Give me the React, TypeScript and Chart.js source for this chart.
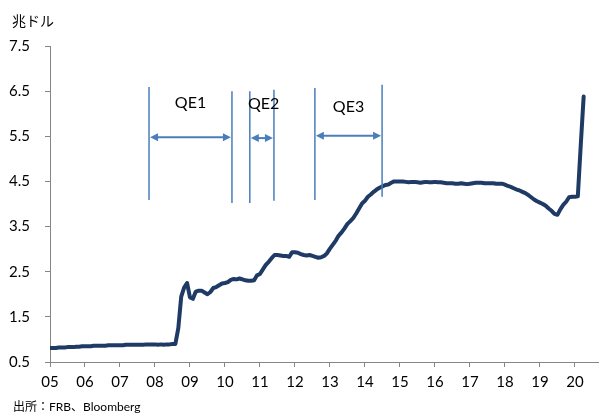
import { useEffect, useRef } from 'react';
import { Chart, registerables } from 'chart.js';

Chart.register(...registerables);

// ---- data ----
const startYear = 2005;
const tickYears = [2005, 2006, 2007, 2008, 2009, 2010, 2011, 2012, 2013, 2014, 2015, 2016, 2017, 2018, 2019, 2020];
const tickLabels = ['05', '06', '07', '08', '09', '10', '11', '12', '13', '14', '15', '16', '17', '18', '19', '20'];
const yTicks = [0.5, 1.5, 2.5, 3.5, 4.5, 5.5, 6.5, 7.5];

// Fed balance sheet, trillion USD, monthly from Jan 2005
const v2005 = [0.81, 0.81, 0.81, 0.82, 0.82, 0.82, 0.83, 0.83, 0.83, 0.84, 0.84, 0.85];
const v2006 = [0.85, 0.85, 0.85, 0.86, 0.86, 0.86, 0.86, 0.86, 0.87, 0.87, 0.87, 0.87];
const v2007 = [0.87, 0.87, 0.88, 0.88, 0.88, 0.88, 0.88, 0.88, 0.88, 0.89, 0.89, 0.89];
const v2008 = [0.89, 0.88, 0.89, 0.88, 0.89, 0.89, 0.90, 0.90, 1.25, 1.95, 2.15, 2.25];
const v2009 = [1.93, 1.90, 2.06, 2.08, 2.08, 2.04, 2.00, 2.05, 2.14, 2.16, 2.20, 2.24];
const v2010 = [2.25, 2.27, 2.32, 2.34, 2.33, 2.35, 2.33, 2.31, 2.30, 2.30, 2.31, 2.42];
const v2011 = [2.45, 2.55, 2.65, 2.72, 2.80, 2.87, 2.87, 2.86, 2.85, 2.85, 2.83, 2.93];
const v2012 = [2.93, 2.92, 2.89, 2.87, 2.86, 2.87, 2.85, 2.83, 2.81, 2.82, 2.85, 2.91];
const v2013 = [3.01, 3.10, 3.19, 3.30, 3.37, 3.46, 3.56, 3.62, 3.69, 3.79, 3.90, 4.01];
const v2014 = [4.07, 4.16, 4.21, 4.27, 4.32, 4.36, 4.39, 4.42, 4.43, 4.47, 4.50, 4.50];
const v2015 = [4.50, 4.50, 4.49, 4.48, 4.49, 4.49, 4.48, 4.47, 4.48, 4.49, 4.48, 4.48];
const v2016 = [4.49, 4.48, 4.48, 4.47, 4.46, 4.46, 4.46, 4.45, 4.45, 4.46, 4.45, 4.44];
const v2017 = [4.45, 4.46, 4.47, 4.47, 4.47, 4.46, 4.46, 4.46, 4.46, 4.45, 4.45, 4.45];
const v2018 = [4.43, 4.40, 4.38, 4.35, 4.32, 4.30, 4.27, 4.24, 4.20, 4.15, 4.10, 4.06];
const v2019 = [4.03, 4.00, 3.96, 3.90, 3.85, 3.78, 3.76, 3.88, 3.98, 4.05, 4.15, 4.16];
const v2020 = [4.16, 4.17, 5.30, 6.38];

const balance = [
  ...v2005, ...v2006, ...v2007, ...v2008, ...v2009, ...v2010, ...v2011, ...v2012,
  ...v2013, ...v2014, ...v2015, ...v2016, ...v2017, ...v2018, ...v2019, ...v2020,
];

// QE periods (as annotated, in fractional years)
const qeLabels = ['QE1', 'QE2', 'QE3'];
const qeStart = [2007.83, 2010.71, 2012.57];
const qeEnd = [2010.2, 2011.4, 2014.49];

const unitLabel = '兆ドル';
const sourceLabel = '出所：FRB、Bloomberg';

const FONT = 'Lato, "Noto Sans CJK JP", sans-serif';

function drawArrowHead(ctx: CanvasRenderingContext2D, x: number, y: number, dir: number) {
  const len = 8;
  const half = 4;
  ctx.beginPath();
  ctx.moveTo(x, y);
  ctx.lineTo(x - dir * len, y - half);
  ctx.lineTo(x - dir * len, y + half);
  ctx.closePath();
  ctx.fill();
}

const annotationPlugin = {
  id: 'qeAnnotations',
  afterDraw(chart: any) {
    const ctx: CanvasRenderingContext2D = chart.ctx;
    const xs = chart.scales.x;
    const ys = chart.scales.y;
    ctx.save();
    const blue = '#4a7ebb';
    const lineTops = [[6.59, 6.50], [6.50, 6.53], [6.57, 6.64]];
    const lineBots = [[4.09, 4.02], [4.02, 4.07], [4.09, 4.16]];
    const arrowY = [5.48, 5.46, 5.51];
    const labelY = [6.24, 6.22, 6.15];
    const labelXOff = [0, 0.05, 0.0];
    qeLabels.forEach((name, i) => {
      const x1 = xs.getPixelForValue(qeStart[i]);
      const x2 = xs.getPixelForValue(qeEnd[i]);
      ctx.strokeStyle = blue;
      ctx.fillStyle = blue;
      ctx.lineWidth = 1.5;
      ctx.beginPath();
      ctx.moveTo(x1, ys.getPixelForValue(lineTops[i][0]));
      ctx.lineTo(x1, ys.getPixelForValue(lineBots[i][0]));
      ctx.moveTo(x2, ys.getPixelForValue(lineTops[i][1]));
      ctx.lineTo(x2, ys.getPixelForValue(lineBots[i][1]));
      ctx.stroke();
      const ay = ys.getPixelForValue(arrowY[i]);
      ctx.lineWidth = 2;
      ctx.beginPath();
      ctx.moveTo(x1 + 5, ay);
      ctx.lineTo(x2 - 5, ay);
      ctx.stroke();
      drawArrowHead(ctx, x1 + 1, ay, -1);
      drawArrowHead(ctx, x2 - 1, ay, 1);
      ctx.fillStyle = '#000';
      ctx.font = `16px ${FONT}`;
      ctx.textAlign = 'center';
      ctx.textBaseline = 'middle';
      const cx = xs.getPixelForValue((qeStart[i] + qeEnd[i]) / 2 + labelXOff[i]);
      ctx.fillText(name, cx, ys.getPixelForValue(labelY[i]));
    });
    ctx.fillStyle = '#000';
    ctx.textAlign = 'left';
    ctx.textBaseline = 'middle';
    ctx.font = `14px ${FONT}`;
    ctx.fillText(unitLabel, 12, 21);
    ctx.font = `12px ${FONT}`;
    ctx.fillText(sourceLabel, 13, 407);
    ctx.restore();
  },
};

export default function App() {
  const ref = useRef<HTMLCanvasElement>(null);
  useEffect(() => {
    if (!ref.current) return;
    const points = balance.map((v, i) => ({ x: startYear + i / 12, y: v }));
    const chart = new Chart(ref.current, {
      type: 'line',
      data: {
        datasets: [
          {
            data: points,
            borderColor: '#1f3a64',
            borderWidth: 4,
            pointRadius: 0,
            tension: 0,
            fill: false,
            borderJoinStyle: 'round',
            borderCapStyle: 'round',
          },
        ],
      },
      options: {
        animation: false,
        responsive: false,
        maintainAspectRatio: false,
        layout: { padding: { top: 46, right: 2, left: 0, bottom: 0 } },
        plugins: { legend: { display: false }, tooltip: { enabled: false }, title: { display: false } },
        scales: {
          x: {
            type: 'linear',
            min: 2005,
            max: 2020.66,
            afterBuildTicks: (s: any) => {
              s.ticks = tickYears.map((v) => ({ value: v }));
            },
            afterFit: (s: any) => {
              s.height = 52;
            },
            ticks: {
              autoSkip: false,
              maxRotation: 0,
              padding: 6,
              color: '#000',
              font: { family: FONT, size: 15 },
              callback: (v: any) => {
                const idx = tickYears.indexOf(Number(v));
                return idx >= 0 ? tickLabels[idx] : '';
              },
            },
            grid: { drawOnChartArea: false, drawTicks: true, tickLength: 5, color: '#868686' },
            border: { display: true, color: '#868686', width: 1 },
          },
          y: {
            min: 0.5,
            max: 7.5,
            afterBuildTicks: (s: any) => {
              s.ticks = yTicks.map((v) => ({ value: v }));
            },
            afterFit: (s: any) => {
              s.width = 50;
            },
            ticks: {
              padding: 15,
              color: '#000',
              font: { family: FONT, size: 15 },
              callback: (v: any) => Number(v).toFixed(1),
            },
            grid: { drawOnChartArea: false, drawTicks: true, tickLength: 5, color: '#868686' },
            border: { display: true, color: '#868686', width: 1 },
          },
        },
      },
      plugins: [annotationPlugin],
    });
    return () => chart.destroy();
  }, []);
  return (
    <div style={{ position: 'fixed', left: 0, top: 0, width: 600, height: 414, background: '#fff' }}>
      <canvas ref={ref} width={600} height={414} style={{ display: 'block', width: 600, height: 414 }} />
    </div>
  );
}
